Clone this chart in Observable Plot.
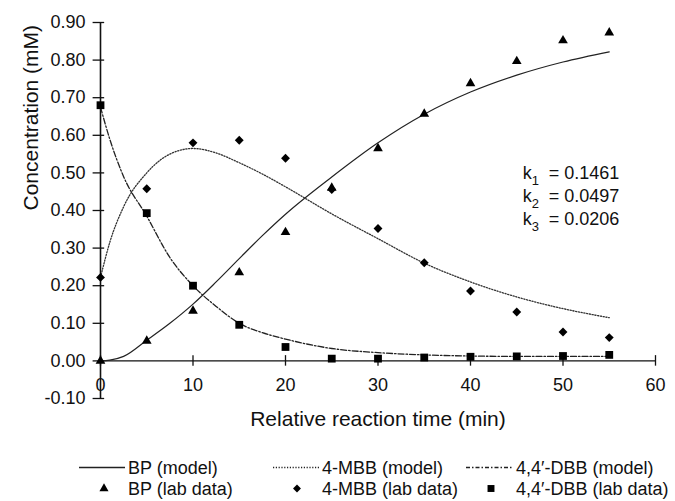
<!DOCTYPE html>
<html>
<head>
<meta charset="utf-8">
<script src="https://cdn.jsdelivr.net/npm/d3@7"></script>
<script src="https://cdn.jsdelivr.net/npm/@observablehq/plot@0.6"></script>
<style>
  body { margin: 0; background: #fff; }
  #chart { width: 675px; font-family: "Liberation Sans", Arial, sans-serif; }
  svg { display: block; }
</style>
</head>
<body>
<div id="chart"></div>
<script>
// ---- data ----
const labTimes = [0, 5, 10, 15, 20, 25, 30, 35, 40, 45, 50, 55];
const bpLab  = [0, 0.053, 0.133, 0.235, 0.342, 0.46, 0.565, 0.657, 0.738, 0.797, 0.852, 0.873];
const mbbLab = [0.222, 0.458, 0.58, 0.587, 0.539, 0.456, 0.352, 0.261, 0.186, 0.13, 0.077, 0.062];
const dbbLab = [0.68, 0.393, 0.20, 0.096, 0.037, 0.006, 0.006, 0.009, 0.011, 0.012, 0.013, 0.016];

const modelTimes = [0, 1, 2.5, 5, 7.5, 10, 12.5, 15, 17.5, 20, 25, 30, 35, 40, 45, 50, 55];
const bpModel  = [0, 0.002, 0.012, 0.055, 0.10, 0.151, 0.21, 0.272, 0.333, 0.39, 0.489, 0.58, 0.656, 0.715, 0.76, 0.795, 0.822];
const mbbModel = [0.222, 0.315, 0.41, 0.50, 0.55, 0.565, 0.553, 0.527, 0.497, 0.463, 0.391, 0.325, 0.26, 0.21, 0.17, 0.139, 0.115];
const dbbModel = [0.675, 0.59, 0.49, 0.385, 0.275, 0.20, 0.145, 0.10, 0.075, 0.058, 0.033, 0.022, 0.016, 0.013, 0.012, 0.012, 0.012];

const xTicks = [0, 10, 20, 30, 40, 50, 60];
const yTicks = [-0.1, 0, 0.1, 0.2, 0.3, 0.4, 0.5, 0.6, 0.7, 0.8, 0.9];

const kNames  = ["1", "2", "3"];
const kValues = ["0.1461", "0.0497", "0.0206"];

const xLabel = "Relative reaction time (min)";
const yLabel = "Concentration (mM)";

const legendRow1 = ["BP (model)", "4-MBB (model)", "4,4\u2032-DBB (model)"];
const legendRow2 = ["BP (lab data)", "4-MBB (lab data)", "4,4\u2032-DBB (lab data)"];

// ---- build tables ----
const lab = (vals) => labTimes.map((t, i) => ({t, v: vals[i]}));
const model = (vals) => modelTimes.map((t, i) => ({t, v: vals[i]}));

const FONT = "Liberation Sans, Arial, sans-serif";
const INK = "#111";

const plot = Plot.plot({
  width: 675,
  height: 440,
  marginLeft: 100,
  marginRight: 20,
  marginTop: 22,
  marginBottom: 42,
  style: {fontFamily: FONT, background: "#fff", color: INK},
  x: {domain: [0, 60], axis: null},
  y: {domain: [-0.1, 0.9], axis: null},
  marks: [
    // axes
    Plot.ruleX([0], {y1: -0.1, y2: 0.9, stroke: INK, strokeWidth: 1.6}),
    Plot.ruleY([0], {x1: 0, x2: 60, stroke: INK, strokeWidth: 1.3}),
    Plot.ruleY(yTicks, {y: d => d, x1: -0.8, x2: 0.45, stroke: INK, strokeWidth: 1.3}),
    Plot.ruleX(xTicks, {x: d => d, y1: -0.014, y2: 0.014, stroke: INK, strokeWidth: 1.3}),
    Plot.text(yTicks, {x: 0, y: d => d, dx: -15, textAnchor: "end", lineAnchor: "middle",
      text: d => d.toFixed(2), fontSize: 18, fill: INK}),
    Plot.text(xTicks, {x: d => d, y: 0, dy: 24, lineAnchor: "middle",
      text: d => String(d), fontSize: 18, fill: INK}),
    Plot.text([xLabel], {frameAnchor: "bottom", dy: 21, lineAnchor: "middle", text: d => d, fontSize: 21, fill: INK}),
    Plot.text([yLabel], {frameAnchor: "left", dx: -69, rotate: -90, lineAnchor: "middle", text: d => d, fontSize: 21, fill: INK}),
    // model curves
    Plot.line(model(bpModel), {x: "t", y: "v", stroke: "#222", strokeWidth: 1.2, curve: "monotone-x"}),
    Plot.line(model(mbbModel), {x: "t", y: "v", stroke: "#333", strokeWidth: 1.3, strokeDasharray: "1.2,1.6", curve: "monotone-x"}),
    Plot.line(model(dbbModel), {x: "t", y: "v", stroke: "#222", strokeWidth: 1.3, strokeDasharray: "6,2,1.5,2", curve: "monotone-x"}),
    // lab data
    Plot.dot(lab(bpLab), {x: "t", y: "v", symbol: "triangle", fill: "#000", r: 3.6}),
    Plot.dot(lab(mbbLab), {x: "t", y: "v", symbol: "diamond2", fill: "#000", r: 4}),
    Plot.dot(lab(dbbLab), {x: "t", y: "v", symbol: "square", fill: "#000", r: 4.4})
  ]
});

document.getElementById("chart").appendChild(plot);

// rate constants annotation with subscripts
const sx = plot.scale("x"), sy = plot.scale("y");
const svg = d3.select(plot);
const kx = sx.apply(45.7);
const ky0 = sy.apply(0.483);
kNames.forEach((n, i) => {
  const y = ky0 + i * 23;
  const t = svg.append("text")
    .attr("x", kx).attr("y", y).attr("text-anchor", "start")
    .attr("font-family", FONT).attr("font-size", 18).attr("fill", INK);
  t.append("tspan").text("k");
  t.append("tspan").attr("dy", 6).attr("font-size", 13).text(n);
  svg.append("text")
    .attr("x", kx + 26).attr("y", y).attr("text-anchor", "start")
    .attr("font-family", FONT).attr("font-size", 18).attr("fill", INK)
    .text("= " + kValues[i]);
});

// legend below the plot
const leg = d3.select("#chart").append("svg").attr("width", 675).attr("height", 61)
  .attr("font-family", FONT).attr("font-size", 18).attr("fill", INK);
const row1Y = 27.5, row2Y = 48.5;
const colLine = [[79, 125], [273, 320], [466, 512]];
const colText1 = [128, 322, 516];
const colSym = [104, 297, 491];
const colText2 = [128, 322, 516];
const dashes = [null, "1.2,1.6", "4,2,1.5,2"];
const syms = [d3.symbolTriangle, d3.symbolDiamond2, d3.symbolSquare];
const symSize = [36, 40, 48];
legendRow1.forEach((lbl, i) => {
  leg.append("line").attr("x1", colLine[i][0]).attr("x2", colLine[i][1])
    .attr("y1", row1Y).attr("y2", row1Y).attr("stroke", "#222").attr("stroke-width", 1.3)
    .attr("stroke-dasharray", dashes[i]);
  leg.append("text").attr("x", colText1[i]).attr("y", row1Y).attr("dy", "0.35em").text(lbl);
});
legendRow2.forEach((lbl, i) => {
  leg.append("path").attr("d", d3.symbol(syms[i], symSize[i])())
    .attr("transform", `translate(${colSym[i]},${row2Y})`).attr("fill", "#000");
  leg.append("text").attr("x", colText2[i]).attr("y", row2Y).attr("dy", "0.35em").text(lbl);
});
</script>
</body>
</html>
